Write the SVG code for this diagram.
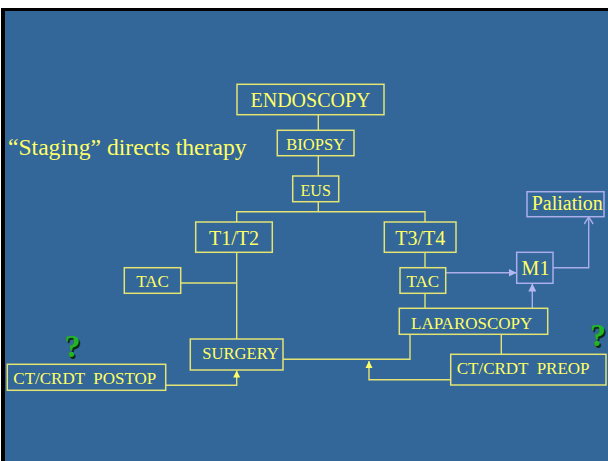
<svg xmlns="http://www.w3.org/2000/svg" width="608" height="461" viewBox="0 0 608 461">
<style>
.box{fill:none;stroke:#e4e474;stroke-width:1.5}
.pbox{fill:none;stroke:#aaaeea;stroke-width:1.5}
.t{font-family:"Liberation Serif","Times New Roman",serif;fill:#ffff66;white-space:pre}
.ln{fill:none;stroke:#e4e474;stroke-width:1.4}
.pl{fill:none;stroke:#aaaeea;stroke-width:1.4}
.q{font-family:"Liberation Serif","Times New Roman",serif;font-weight:bold;font-size:32px}
</style>
<defs>
<marker id="ay" markerUnits="userSpaceOnUse" markerWidth="8" markerHeight="8" viewBox="0 0 8 8" refX="7" refY="4" orient="auto"><path d="M0,0.5 L7,4 L0,7.5 z" fill="#ffff66"/></marker>
<marker id="ap" markerUnits="userSpaceOnUse" markerWidth="9" markerHeight="9" viewBox="0 0 9 9" refX="8" refY="4.5" orient="auto"><path d="M0,0.5 L8,4.5 L0,8.5 z" fill="#b4b8f0"/></marker>
<marker id="ao" markerUnits="userSpaceOnUse" markerWidth="9" markerHeight="10" viewBox="0 0 9 10" refX="8" refY="5" orient="auto"><path d="M1,0.5 L8,5 L1,9.5" fill="none" stroke="#aaaeea" stroke-width="1.4"/></marker>
</defs>
<rect x="0" y="0" width="608" height="461" fill="#ffffff"/>
<rect x="1" y="8" width="607" height="453" fill="#000000"/>
<rect x="5" y="11" width="603" height="450" fill="#336699"/>

<text id="title" class="t" x="8" y="155" font-size="23.6">“Staging” directs therapy</text>

<g id="connectors">
<path class="ln" d="M318.3,115 V130.3"/>
<path class="ln" d="M318.3,155.7 V176"/>
<path class="ln" d="M318.3,201.7 V211.7"/>
<path class="ln" d="M236.7,222 V211.7 H425 V222"/>
<path class="ln" d="M236.7,252.3 V339"/>
<path class="ln" d="M180.7,283 H236.7"/>
<path class="ln" d="M425,252.3 V267.7"/>
<path class="ln" d="M425,293.3 V308.3"/>
<path class="ln" d="M410,334.3 V359.3 H283"/>
<path class="ln" d="M501.3,334.3 V354.3"/>
<path class="ln" d="M450.7,379.7 H369 V361" marker-end="url(#ay)"/>
<path class="ln" d="M165.7,385.3 H236.7 V370.5" marker-end="url(#ay)"/>
<path class="pl" d="M445.7,272.7 H516.5" marker-end="url(#ap)"/>
<path class="pl" d="M532.3,308.3 V283.5" marker-end="url(#ap)"/>
<path class="pl" d="M553,267.7 H588.7 V217" marker-end="url(#ao)"/>
</g>

<g id="endoscopy"><rect class="box" x="237" y="84.3" width="147" height="30.4"/><text class="t" x="310.5" y="107" font-size="20" text-anchor="middle">ENDOSCOPY</text></g>
<g id="biopsy"><rect class="box" x="277.3" y="130.3" width="76.7" height="25.4"/><text class="t" x="315.7" y="149.5" font-size="16.5" text-anchor="middle">BIOPSY</text></g>
<g id="eus"><rect class="box" x="292.7" y="176" width="46" height="25.7"/><text class="t" x="315.7" y="196" font-size="16" text-anchor="middle">EUS</text></g>
<g id="t1t2"><rect class="box" x="195.7" y="222" width="76.6" height="30.3"/><text class="t" x="234" y="245" font-size="20" text-anchor="middle">T1/T2</text></g>
<g id="t3t4"><rect class="box" x="384.3" y="222" width="71.7" height="30.3"/><text class="t" x="420.2" y="244.5" font-size="20" text-anchor="middle">T3/T4</text></g>
<g id="tac-left"><rect class="box" x="124.3" y="267.7" width="56.4" height="25.6"/><text class="t" x="152.5" y="287" font-size="17" text-anchor="middle">TAC</text></g>
<g id="tac-right"><rect class="box" x="400" y="267.7" width="45.7" height="25.6"/><text class="t" x="422.8" y="287" font-size="17" text-anchor="middle">TAC</text></g>
<g id="m1"><rect class="pbox" x="516.7" y="252.3" width="36.3" height="31"/><text class="t" x="535.5" y="275" font-size="20" text-anchor="middle">M1</text></g>
<g id="paliation"><rect class="pbox" x="527" y="191.7" width="77" height="25"/><text class="t" x="531.7" y="209.5" font-size="20">Paliation</text></g>
<g id="laparoscopy"><rect class="box" x="399.3" y="308.3" width="148.4" height="26"/><text class="t" x="471.7" y="328.5" font-size="17" text-anchor="middle">LAPAROSCOPY</text></g>
<g id="surgery"><rect class="box" x="190.3" y="339" width="92.7" height="31"/><text class="t" x="202.3" y="359" font-size="16.6">SURGERY</text></g>
<g id="ct-postop"><rect class="box" x="7.3" y="364.3" width="158.4" height="26"/><text class="t" x="13.3" y="383.5" font-size="17">CT/CRDT  POSTOP</text></g>
<g id="ct-preop"><rect class="box" x="450.7" y="354.3" width="155.3" height="30.7"/><text class="t" x="456.7" y="373.5" font-size="17">CT/CRDT  PREOP</text></g>

<g id="q-left"><text class="q" x="74" y="358.5" text-anchor="middle" fill="#0a2a0a">?</text><text class="q" x="72.5" y="357" text-anchor="middle" fill="#22b522">?</text></g>
<g id="q-right"><text class="q" x="599.5" y="347.5" text-anchor="middle" fill="#0a2a0a">?</text><text class="q" x="598" y="346" text-anchor="middle" fill="#22b522">?</text></g>
</svg>
